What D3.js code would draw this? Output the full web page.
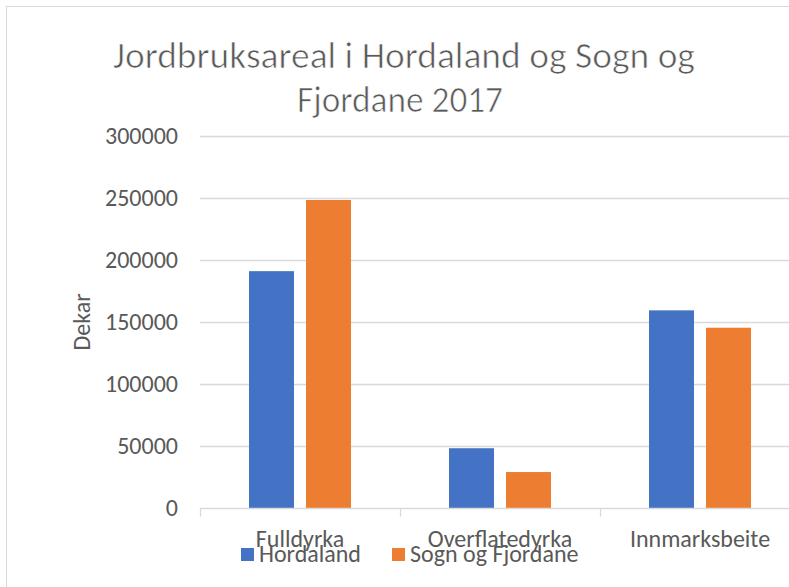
<!DOCTYPE html>
<html>
<head>
<meta charset="utf-8">
<script src="https://cdn.jsdelivr.net/npm/d3@7"></script>
<style>
  html, body { margin: 0; padding: 0; background: #fff; }
  svg { display: block; }
  text { font-family: Carlito, Calibri, "Liberation Sans Narrow", "Noto Sans", sans-serif; fill: #595959; }
</style>
</head>
<body>
<svg id="chart" width="789" height="587"></svg>
<script>
const categories = ["Fulldyrka", "Overflatedyrka", "Innmarksbeite"];
const seriesNames = ["Hordaland", "Sogn og Fjordane"];
const hordaland = [191000, 48200, 159400];
const sognFjordane = [248400, 29000, 145400];
const yTicks = [0, 50000, 100000, 150000, 200000, 250000, 300000];
const colors = ["#4472C4", "#ED7D31"];
const titleLines = ["Jordbruksareal i Hordaland og Sogn og", "Fjordane 2017"];
const yTitle = "Dekar";

const svg = d3.select("#chart");
const W = 789, H = 587;

// outer chart frame (extends beyond the visible area)
svg.append("rect").attr("x", 6.5).attr("y", 6.5).attr("width", 900).attr("height", 900)
  .attr("fill", "#fff").attr("stroke", "#D9D9D9").attr("stroke-width", 1);

const plot = { left: 200, right: 800, top: 136, bottom: 508 };

const x0 = d3.scaleBand().domain(categories).range([plot.left, plot.right]).padding(0);
const groupW = 102;
const x1 = d3.scaleBand().domain(seriesNames).range([0, groupW]).paddingInner(12 / 57).paddingOuter(0);
const y = d3.scaleLinear().domain([0, 300000]).range([plot.bottom, plot.top]);

// gridlines
svg.append("g").selectAll("line").data(yTicks.filter(d => d > 0)).join("line")
  .attr("x1", plot.left).attr("x2", W)
  .attr("y1", d => Math.round(y(d)) + 0.5).attr("y2", d => Math.round(y(d)) + 0.5)
  .attr("stroke", "#D9D9D9").attr("stroke-width", 1.3);

// bars
const rows = categories.map((c, i) => ({ cat: c, vals: [hordaland[i], sognFjordane[i]] }));
const g = svg.append("g").selectAll("g").data(rows).join("g")
  .attr("transform", d => `translate(${x0(d.cat) + (x0.bandwidth() - groupW) / 2},0)`);
g.selectAll("rect").data(d => d.vals.map((v, j) => ({ s: seriesNames[j], v, j }))).join("rect")
  .attr("x", d => x1(d.s))
  .attr("width", x1.bandwidth())
  .attr("y", d => y(d.v))
  .attr("height", d => y(0) - y(d.v))
  .attr("fill", d => colors[d.j]);

// x axis
const xa = svg.append("g").attr("transform", `translate(0,${plot.bottom + 0.5})`);
xa.append("line").attr("x1", plot.left).attr("x2", W).attr("stroke", "#D9D9D9").attr("stroke-width", 1.3);
xa.selectAll("line.tk").data([plot.left, ...categories.slice(1).map(c => x0(c))]).join("line")
  .attr("class", "tk").attr("x1", d => d + 0.5).attr("x2", d => d + 0.5).attr("y1", 0).attr("y2", 8)
  .attr("stroke", "#D9D9D9").attr("stroke-width", 1.3);
xa.selectAll("text.cl").data(categories).join("text").attr("class", "cl")
  .attr("x", d => x0(d) + x0.bandwidth() / 2).attr("y", 38)
  .attr("text-anchor", "middle").attr("font-size", 24).text(d => d);

// y axis labels
const ya = svg.append("g");
ya.selectAll("text").data(yTicks).join("text")
  .attr("x", 178).attr("y", d => y(d)).attr("dy", "0.35em")
  .attr("text-anchor", "end").attr("font-size", 24).text(d => d);

// y title
svg.append("text").attr("transform", "translate(90,322) rotate(-90)")
  .attr("text-anchor", "middle").attr("font-size", 24).text(yTitle);

// title (light look)
const titleBox = [{ cx: 404, w: 582 }, { cx: 400, w: 206 }];
svg.append("g").selectAll("text").data(titleLines).join("text")
  .attr("x", (d, i) => titleBox[i].cx).attr("y", (d, i) => 68 + i * 44)
  .attr("text-anchor", "middle").attr("font-size", 37)
  .attr("textLength", (d, i) => titleBox[i].w).attr("lengthAdjust", "spacingAndGlyphs")
  .attr("stroke", "#fff").attr("stroke-width", 0.7)
  .text(d => d);

// legend
const leg = svg.append("g");
const legItems = [{ name: seriesNames[0], x: 241, tx: 259 }, { name: seriesNames[1], x: 392, tx: 410 }];
leg.selectAll("rect").data(legItems).join("rect")
  .attr("x", d => d.x).attr("y", 548).attr("width", 13).attr("height", 13)
  .attr("fill", (d, i) => colors[i]);
leg.selectAll("text").data(legItems).join("text")
  .attr("x", d => d.tx).attr("y", 561.5).attr("font-size", 24).text(d => d.name);
</script>
</body>
</html>
